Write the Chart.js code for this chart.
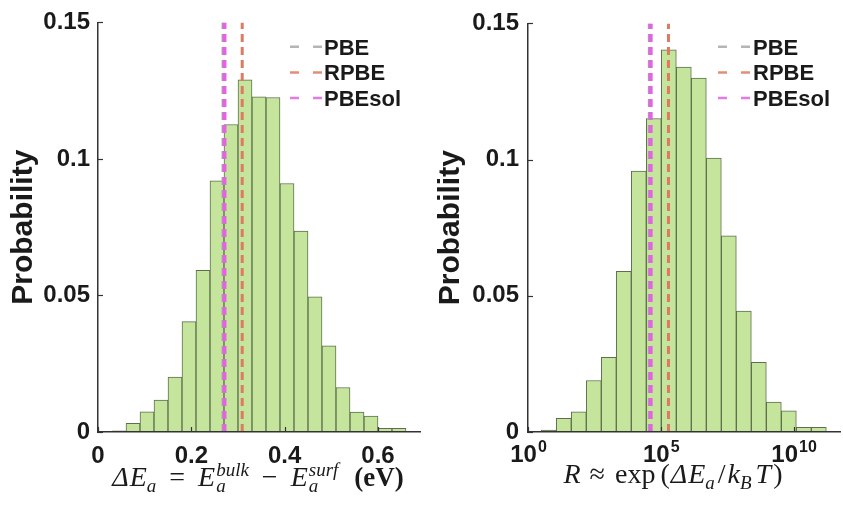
<!DOCTYPE html>
<html>
<head>
<meta charset="utf-8">
<script src="https://cdn.jsdelivr.net/npm/chart.js@4.4.1/dist/chart.umd.min.js"></script>
<style>
  html, body { margin: 0; padding: 0; background: #fff; }
  #wrap { position: relative; width: 843px; height: 514px; }
  .panel { position: absolute; top: 0; height: 514px; }
  #left { left: 0; width: 421px; }
  #right { left: 421px; width: 422px; }
</style>
</head>
<body>
<div id="wrap">
  <div class="panel" id="left"><canvas id="cLeft"></canvas></div>
  <div class="panel" id="right"><canvas id="cRight"></canvas></div>
</div>
<script>
// left histogram: dE_a in eV, bins 0.03 wide (centres)
const dEBins = [0.045, 0.075, 0.105, 0.135, 0.165, 0.195, 0.225, 0.255, 0.285, 0.315, 0.345,
                0.375, 0.405, 0.435, 0.465, 0.495, 0.525, 0.555, 0.585, 0.615, 0.645];
const dEProb = [0.0004, 0.0032, 0.0074, 0.0117, 0.0201, 0.0404, 0.0592, 0.0920, 0.1126, 0.1290, 0.1227,
                0.1225, 0.0910, 0.0736, 0.0495, 0.0316, 0.0163, 0.0073, 0.0058, 0.0013, 0.0013];

// right histogram: R, bin centres given as log10(R)
const rBinsLog10 = [0.7825, 1.3475, 1.9125, 2.4775, 3.0425, 3.6075, 4.1725, 4.7375, 5.3025, 5.8675,
                    6.4325, 6.9975, 7.5625, 8.1275, 8.6925, 9.2575, 9.8225, 10.3875, 10.9525];
const rProb = [0.0007, 0.0050, 0.0074, 0.0189, 0.0274, 0.0590, 0.0958, 0.1151, 0.1403, 0.1340,
               0.1299, 0.1006, 0.0720, 0.0444, 0.0256, 0.0110, 0.0078, 0.0017, 0.0017];

// functionals (dashed vertical lines)
const methods = ['PBE', 'RPBE', 'PBEsol'];
const methodColors = ['#a8a8a8', '#dc7b62', '#e264e2'];
const methodDE = [0.268, 0.309, 0.271];
const methodLog10R = [4.57, 5.29, 4.62];

const yTicks = [0, 0.05, 0.1, 0.15];
const dETicks = [0, 0.2, 0.4, 0.6];
const rTicksLog10 = [0, 5, 10];

const BAR_FILL = '#c6e59c';
const BAR_EDGE = '#5d6f4e';
const INK = '#1a1a1a';
const AXIS = '#333333';

Chart.defaults.font.family = '"Liberation Sans", Arial, sans-serif';
Chart.defaults.color = INK;

const IT = 'italic 28px "Liberation Serif"';
const RM = '28px "Liberation Serif"';
const SUB = 'italic 19px "Liberation Serif"';
const BF = 'bold 27px "Liberation Serif"';

// pieces of the math axis titles; g = gap before, stack = shares x with next piece
const leftTitle = [
  {t: 'Δ', f: IT}, {t: 'E', f: IT, g: 1}, {t: 'a', f: SUB, dy: 6, g: 0},
  {t: '=', f: RM, g: 13},
  {t: 'E', f: IT, g: 13}, {t: 'a', f: SUB, dy: 6, g: 1, stack: true}, {t: 'bulk', f: SUB, dy: -10, g: 1},
  {t: '−', f: RM, g: 13},
  {t: 'E', f: IT, g: 13}, {t: 'a', f: SUB, dy: 6, g: 1, stack: true}, {t: 'surf', f: SUB, dy: -10, g: 1},
  {t: '(eV)', f: BF, g: 16}
];
const rightTitle = [
  {t: 'R', f: IT}, {t: '≈', f: RM, g: 9}, {t: 'exp', f: RM, g: 10}, {t: '(', f: RM, g: 5},
  {t: 'Δ', f: IT, g: 1}, {t: 'E', f: IT, g: 1}, {t: 'a', f: SUB, dy: 6, g: 0},
  {t: '/', f: RM, g: 3}, {t: 'k', f: IT, g: 2}, {t: 'B', f: SUB, dy: 6, g: 0},
  {t: 'T', f: IT, g: 4}, {t: ')', f: RM, g: 2}
];

function layoutMath(ctx, parts) {
  let x = 0, stackX = null, stackW = 0;
  const out = [];
  parts.forEach(p => {
    ctx.font = p.f;
    const w = ctx.measureText(p.t).width;
    let px;
    if (stackX !== null) {
      px = stackX;
      x = stackX + Math.max(w, stackW);
      stackX = null;
    } else {
      px = x + (p.g || 0);
      if (p.stack) { stackX = px; stackW = w; x = px; }
      else x = px + w;
    }
    out.push({p, x: px});
  });
  return {items: out, width: x};
}

const decor = {
  id: 'decor',
  afterDraw(chart, args, o) {
    const ctx = chart.ctx;
    const {left, right, bottom} = chart.chartArea;
    const xs = chart.scales.x, ys = chart.scales.y;
    ctx.save();

    // inward tick marks
    ctx.strokeStyle = AXIS;
    ctx.lineWidth = 1.2;
    ys.ticks.forEach(t => {
      const y = Math.round(ys.getPixelForValue(t.value)) + 0.5;
      ctx.beginPath(); ctx.moveTo(left, y); ctx.lineTo(left + 5, y); ctx.stroke();
    });
    xs.ticks.forEach(t => {
      const x = Math.round(xs.getPixelForValue(t.value)) + 0.5;
      ctx.beginPath(); ctx.moveTo(x, bottom); ctx.lineTo(x, bottom - 5); ctx.stroke();
    });

    // x tick labels
    ctx.fillStyle = INK;
    ctx.textBaseline = 'alphabetic';
    xs.ticks.forEach(t => {
      const x = xs.getPixelForValue(t.value);
      if (o.pow10) {
        const e = String(Math.round(Math.log10(t.value)));
        ctx.font = 'bold 24px "Liberation Sans"';
        const w1 = ctx.measureText('10').width;
        ctx.font = 'bold 16px "Liberation Sans"';
        const w2 = ctx.measureText(e).width;
        const x0 = x - (w1 + w2) / 2;
        ctx.textAlign = 'left';
        ctx.font = 'bold 24px "Liberation Sans"';
        ctx.fillText('10', x0, 462);
        ctx.font = 'bold 16px "Liberation Sans"';
        ctx.fillText(e, x0 + w1 + 1, 452);
      } else {
        ctx.textAlign = 'center';
        ctx.font = 'bold 24px "Liberation Sans"';
        ctx.fillText(String(t.value), x, 463);
      }
    });

    // legend inside the plot
    const lines = chart.data.datasets.filter(d => d.type === 'line');
    lines.forEach((d, i) => {
      const y = o.legendY + i * 25.7;
      const sx = right - o.legendSample;
      ctx.strokeStyle = d.borderColor;
      ctx.globalAlpha = 0.85;
      ctx.lineWidth = 2.5;
      ctx.beginPath();
      ctx.moveTo(sx, y); ctx.lineTo(sx + 9, y);
      ctx.moveTo(sx + 23, y); ctx.lineTo(sx + 32, y);
      ctx.stroke();
      ctx.globalAlpha = 1;
      ctx.fillStyle = INK;
      ctx.textAlign = 'left';
      ctx.font = 'bold 22px "Liberation Sans"';
      ctx.fillText(d.label, right - o.legendText, y + 8);
    });

    // axis title in math style, centred at o.titleCx
    ctx.textAlign = 'left';
    const lay = layoutMath(ctx, o.title);
    const x0 = o.titleCx - lay.width / 2;
    lay.items.forEach(it => {
      ctx.font = it.p.f;
      ctx.fillText(it.p.t, x0 + it.x, o.titleY + (it.p.dy || 0));
    });
    ctx.restore();
  }
};

function histChart(canvas, o) {
  const top = yTicks[yTicks.length - 1];
  return new Chart(canvas, {
    type: 'bar',
    data: {
      datasets: [
        {
          label: 'histogram',
          data: o.binX.map((x, i) => ({x: x, y: o.prob[i]})),
          backgroundColor: BAR_FILL,
          borderColor: BAR_EDGE,
          borderWidth: 1,
          barPercentage: 1,
          categoryPercentage: 1,
          order: 10
        },
        ...methods.map((m, i) => ({
          type: 'line',
          label: m,
          data: [{x: o.lineX[i], y: 0}, {x: o.lineX[i], y: top}],
          borderColor: methodColors[i],
          borderWidth: i === 2 ? 4 : 3,
          borderDash: [8, 5],
          pointRadius: 0,
          fill: false,
          order: methods.length - i
        }))
      ]
    },
    options: {
      responsive: true,
      maintainAspectRatio: false,
      animation: false,
      layout: {padding: {top: 20, right: o.padRight, left: 0, bottom: 0}},
      plugins: {
        legend: {display: false},
        tooltip: {enabled: false},
        decor: o.decor
      },
      scales: {
        x: {
          type: o.xType,
          min: o.xMin,
          max: o.xMax,
          offset: false,
          grid: {display: false, drawTicks: false},
          border: {display: true, color: AXIS, width: 1.5, z: 1},
          ticks: {display: false},
          afterBuildTicks: s => { s.ticks = o.xTicks.map(v => ({value: v})); },
          afterFit: s => { s.height = 82; }
        },
        y: {
          min: 0,
          max: top,
          grid: {display: false, drawTicks: false},
          border: {display: true, color: AXIS, width: 1.5, z: 1},
          ticks: {
            padding: o.yPad,
            font: {size: 24, weight: 'bold'},
            callback: v => String(v)
          },
          afterBuildTicks: s => { s.ticks = yTicks.map(v => ({value: v})); },
          afterFit: s => { s.width = o.yWidth; },
          title: {
            display: true,
            text: 'Probability',
            font: {size: 30, weight: 'bold'},
            padding: {top: o.yTitlePad, bottom: 0}
          }
        }
      }
    },
    plugins: [decor]
  });
}

histChart(document.getElementById('cLeft'), {
  binX: dEBins,
  prob: dEProb,
  lineX: methodDE,
  xType: 'linear',
  xMin: 0,
  xMax: 0.69,
  xTicks: dETicks,
  padRight: 1,
  yWidth: 98,
  yPad: 8,
  yTitlePad: 6,
  decor: {pow10: false, legendY: 46.7, legendSample: 130, legendText: 96, title: leftTitle, titleCx: 258, titleY: 486}
});

histChart(document.getElementById('cRight'), {
  binX: rBinsLog10.map(e => Math.pow(10, e)),
  prob: rProb,
  lineX: methodLog10R.map(e => Math.pow(10, e)),
  xType: 'logarithmic',
  xMin: 1,
  xMax: Math.pow(10, 11.75),
  xTicks: rTicksLog10.map(e => Math.pow(10, e)),
  padRight: 3,
  yWidth: 107,
  yPad: 9,
  yTitlePad: 12,
  decor: {pow10: true, legendY: 46.7, legendSample: 122, legendText: 87, title: rightTitle, titleCx: 252, titleY: 483}
});
</script>
</body>
</html>
